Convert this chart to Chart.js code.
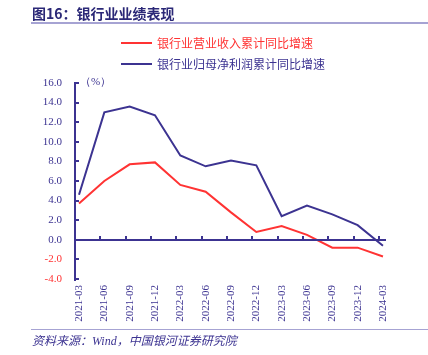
<!DOCTYPE html>
<html><head><meta charset="utf-8">
<script src="https://cdn.jsdelivr.net/npm/chart.js@4/dist/chart.umd.min.js"></script>
<style>
html,body{margin:0;padding:0;background:#fff;}
#wrap{position:relative;width:428px;height:355px;overflow:hidden;}
#c{position:absolute;left:0;top:0;}
.t{position:absolute;white-space:nowrap;}
</style></head><body>
<div id="wrap">
<canvas id="c" width="428" height="355"></canvas>
<div class="t" style="left:32px;top:3px;font:bold 14px 'Noto Sans CJK SC';color:#2B2877;">图16：银行业业绩表现</div>
<div style="position:absolute;left:31px;top:22px;width:397px;height:2px;background:#A6A3D3;"></div>
<div style="position:absolute;left:121px;top:42px;width:31px;height:2px;background:#FF3333;"></div>
<div class="t" style="left:157px;top:34px;font:12px 'Noto Sans CJK SC';color:#FF3333;">银行业营业收入累计同比增速</div>
<div style="position:absolute;left:121px;top:63px;width:31px;height:2px;background:#3C3391;"></div>
<div class="t" style="left:157px;top:55px;font:12px 'Noto Sans CJK SC';color:#3C3391;">银行业归母净利润累计同比增速</div>
<div class="t" style="left:80px;top:74px;font:11px 'Liberation Serif';color:#3C3391;">（%）</div>
<div style="position:absolute;left:31px;top:329px;width:397px;height:1px;background:#A6A3D3;"></div>
<div class="t" style="left:32px;top:331px;font:italic 12px 'Liberation Serif','Noto Sans CJK SC';color:#3C3391;">资料来源：Wind，中国银河证券研究院</div>
</div>
<script>
const categories = ["2021-03","2021-06","2021-09","2021-12","2022-03","2022-06","2022-09","2022-12","2023-03","2023-06","2023-09","2023-12","2024-03"];
const revenueGrowth = [3.7, 6.0, 7.7, 7.9, 5.6, 4.9, 2.8, 0.8, 1.4, 0.5, -0.8, -0.8, -1.7];
const profitGrowth = [4.6, 13.0, 13.6, 12.7, 8.6, 7.5, 8.1, 7.6, 2.4, 3.5, 2.6, 1.5, -0.6];
const yTicks = [-4, 16, 2];

const NAVY = '#3C3391', RED = '#FF3333';
const toPts = arr => arr.map((v, i) => ({x: i, y: v}));

const axesPlugin = {
  id: 'axesPlugin',
  afterDraw(chart) {
    const ctx = chart.ctx;
    const x = chart.scales.x, y = chart.scales.y;
    const ax = Math.round(y.right);
    const right = chart.chartArea.right;
    ctx.save();
    ctx.fillStyle = NAVY;
    ctx.fillRect(ax - 1, Math.round(y.top) - 1, 2, Math.round(y.bottom - y.top) + 3);
    y.ticks.forEach(t => {
      const py = Math.round(y.getPixelForValue(t.value));
      ctx.fillRect(ax, py - 1, 4, 2);
    });
    const y0 = Math.round(y.getPixelForValue(0));
    ctx.fillRect(ax - 1, y0 - 1, right - ax + 1, 2);
    for (let i = 1; i < categories.length; i++) {
      const px = Math.round(x.getPixelForValue(i) - 4);
      ctx.fillRect(px - 1, y0 - 4, 2, 4);
    }
    ctx.restore();
  }
};

new Chart(document.getElementById('c'), {
  type: 'line',
  data: {
    datasets: [
      {label: '银行业营业收入累计同比增速', data: toPts(revenueGrowth), borderColor: RED, borderWidth: 2, pointRadius: 0, tension: 0},
      {label: '银行业归母净利润累计同比增速', data: toPts(profitGrowth), borderColor: NAVY, borderWidth: 2, pointRadius: 0, tension: 0}
    ]
  },
  options: {
    responsive: false, animation: false, devicePixelRatio: 1,
    layout: {padding: {left: 0, right: 42, top: 83, bottom: 0}},
    plugins: {legend: {display: false}, tooltip: {enabled: false}},
    scales: {
      x: {
        type: 'linear', min: -0.158, max: 12.12,
        afterFit: s => { s.height = 76; },
        border: {display: false},
        grid: {display: false, drawTicks: false},
        ticks: {
          stepSize: 1, includeBounds: false, autoSkip: false,
          minRotation: 90, maxRotation: 90, padding: 6,
          color: NAVY, font: {family: 'Liberation Serif', size: 11},
          callback: v => Number.isInteger(v) && categories[v] ? categories[v] : ''
        }
      },
      y: {
        min: yTicks[0], max: yTicks[1],
        afterFit: s => { s.width = 75; },
        border: {display: false},
        grid: {display: false, drawTicks: false},
        ticks: {
          stepSize: yTicks[2], padding: 13,
          color: c => c.tick && c.tick.value < 0 ? RED : NAVY,
          font: {family: 'Liberation Serif', size: 11},
          callback: v => v.toFixed(1)
        }
      }
    }
  },
  plugins: [axesPlugin]
});
</script>
</body></html>
